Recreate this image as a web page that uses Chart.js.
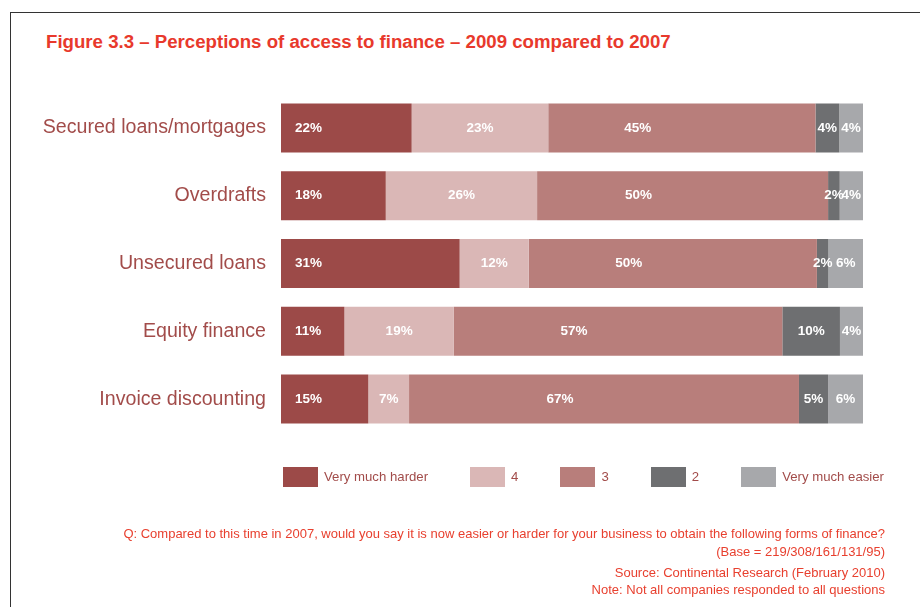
<!DOCTYPE html>
<html>
<head>
<meta charset="utf-8">
<script src="https://cdn.jsdelivr.net/npm/chart.js@4.4.1/dist/chart.umd.min.js"></script>
<style>
  html, body { margin: 0; padding: 0; background: #fff; }
  body { width: 920px; height: 607px; position: relative; overflow: hidden; font-family: 'Liberation Sans', Arial, sans-serif; }
  #frame { position: absolute; left: 10px; top: 12px; width: 920px; height: 600px; border-top: 1.5px solid #333; border-left: 1.5px solid #333; }
  #wrap { position: absolute; left: 0; top: 0; width: 920px; height: 607px; }
  #title { position: absolute; left: 46px; top: 31px; font-size: 18.65px; line-height: 22px; font-weight: bold; color: #e8392c; white-space: nowrap; }
  #legend { position: absolute; left: 283px; top: 467px; display: flex; gap: 42px; }
  .item { display: flex; align-items: center; font-size: 13.2px; line-height: 20px; color: #a24c4a; }
  .swatch { display: inline-block; width: 35px; height: 20px; margin-right: 6px; }
  .note { position: absolute; right: 35px; font-size: 13px; line-height: 16px; color: #e8402f; white-space: nowrap; }
</style>
</head>
<body>
<div id="frame"></div>
<div id="title">Figure 3.3 – Perceptions of access to finance – 2009 compared to 2007</div>
<div id="wrap"><canvas id="my-chart-bars"></canvas></div>
<div id="legend"></div>
<div class="note" style="top:526px">Q: Compared to this time in 2007, would you say it is now easier or harder for your business to obtain the following forms of finance?</div>
<div class="note" style="top:544px">(Base = 219/308/161/131/95)</div>
<div class="note" style="top:565px">Source: Continental Research (February 2010)</div>
<div class="note" style="top:582px">Note: Not all companies responded to all questions</div>
<script>
const categories = ['Secured loans/mortgages', 'Overdrafts', 'Unsecured loans', 'Equity finance', 'Invoice discounting'];
const seriesNames = ['Very much harder', '4', '3', '2', 'Very much easier'];
const veryMuchHarder = [22, 18, 31, 11, 15];
const rating4 = [23, 26, 12, 19, 7];
const rating3 = [45, 50, 50, 57, 67];
const rating2 = [4, 2, 2, 10, 5];
const veryMuchEasier = [4, 4, 6, 4, 6];

const colors = ['#9c4a48', '#dab7b6', '#b87e7b', '#6e6f71', '#a7a8ab'];
const series = [veryMuchHarder, rating4, rating3, rating2, veryMuchEasier];

// every bar is drawn full width, so each row is scaled to 100
const rowTotals = categories.map((c, i) => series.reduce((s, arr) => s + arr[i], 0));

const datasets = series.map((arr, k) => ({
  label: seriesNames[k],
  data: arr.map((v, i) => v / rowTotals[i] * 100),
  shown: arr,
  backgroundColor: colors[k],
  borderWidth: 0,
  categoryPercentage: 1,
  barPercentage: 0.723
}));

const valueLabels = {
  id: 'valueLabels',
  afterDatasetsDraw(chart) {
    const ctx = chart.ctx;
    ctx.save();
    ctx.font = 'bold 13.5px "Liberation Sans", Arial, sans-serif';
    ctx.fillStyle = '#ffffff';
    ctx.textBaseline = 'middle';
    chart.data.datasets.forEach((ds, k) => {
      chart.getDatasetMeta(k).data.forEach((bar, i) => {
        const text = ds.shown[i] + '%';
        const start = Math.min(bar.base, bar.x);
        const end = Math.max(bar.base, bar.x);
        if (k === 0) {
          ctx.textAlign = 'left';
          ctx.fillText(text, start + 14, bar.y);
        } else if (k === 2) {
          ctx.textAlign = 'center';
          ctx.fillText(text, (start + end) / 2 - 44, bar.y);
        } else {
          ctx.textAlign = 'center';
          ctx.fillText(text, (start + end) / 2, bar.y);
        }
      });
    });
    ctx.restore();
  }
};

const canvas = document.getElementById('my-chart-bars');
const ctx = canvas.getContext('2d');

new Chart(ctx, {
  type: 'bar',
  data: { labels: categories, datasets: datasets },
  options: {
    indexAxis: 'y',
    responsive: true,
    maintainAspectRatio: false,
    animation: false,
    layout: { padding: { left: 20, right: 57, top: 94, bottom: 174 } },
    scales: {
      x: { stacked: true, min: 0, max: 100, display: false },
      y: {
        stacked: true,
        grid: { display: false, drawTicks: false },
        border: { display: false },
        afterFit(scale) { scale.width = 261; },
        ticks: {
          padding: 15,
          color: '#a24c4a',
          font: { family: '"Liberation Sans", Arial, sans-serif', size: 19.6 }
        }
      }
    },
    plugins: {
      legend: { display: false },
      tooltip: { enabled: false }
    }
  },
  plugins: [valueLabels]
});

const legend = document.getElementById('legend');
seriesNames.forEach((name, k) => {
  const item = document.createElement('div');
  item.className = 'item';
  const sw = document.createElement('span');
  sw.className = 'swatch';
  sw.style.background = colors[k];
  item.appendChild(sw);
  item.appendChild(document.createTextNode(name));
  legend.appendChild(item);
});
</script>
</body>
</html>
